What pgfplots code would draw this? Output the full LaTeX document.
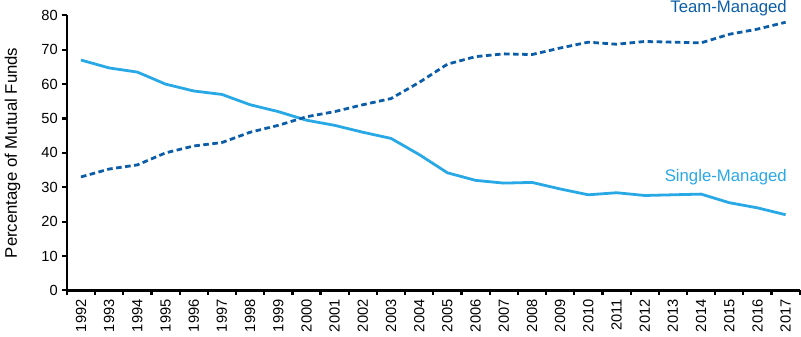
\documentclass[border=0pt]{standalone}
\usepackage{pgfplots}
\pgfplotsset{compat=1.18}
\usepackage{fontspec}
\setmainfont{Liberation Sans}
\definecolor{single}{HTML}{29A8E6}
\definecolor{team}{HTML}{0B5DA8}
\begin{document}
\begin{tikzpicture}
\begin{axis}[
  at={(0pt,0pt)}, anchor=south west,
  scale only axis, width=525pt, height=197pt,
  xmin=-0.5, xmax=25.5, ymin=0, ymax=80,
  axis lines*=left,
  axis line style={line width=1.8pt},
  clip=false,
  ytick={0,10,...,80},
  xtick={0,...,25},
  xticklabels={1992,1993,1994,1995,1996,1997,1998,1999,2000,2001,2002,2003,2004,2005,2006,2007,2008,2009,2010,2011,2012,2013,2014,2015,2016,2017},
  major tick length=0pt,
  xticklabel style={rotate=90, anchor=east, font=\fontsize{10.5}{12}\selectfont, xshift=-3pt},
  yticklabel style={font=\fontsize{10.5}{12}\selectfont, xshift=-3pt},
  /pgf/number format/assume math mode=true,
  ylabel={Percentage of Mutual Funds},
  ylabel style={font=\fontsize{12}{14}\selectfont, at={(axis description cs:-0.0743,0.5)}, anchor=center},
]
\addplot[single, line width=2pt, line join=round] coordinates {
(0,67) (1,64.7) (2,63.5) (3,60) (4,58) (5,57) (6,54) (7,52) (8,49.5) (9,48) (10,46) (11,44.2) (12,39.5) (13,34.2) (14,32) (15,31.2) (16,31.4) (17,29.5) (18,27.8) (19,28.4) (20,27.6) (21,27.8) (22,28) (23,25.5) (24,24) (25,22)
};
\addplot[team, line width=2pt, dash pattern=on 4pt off 2.5pt] coordinates {
(0,33) (1,35.3) (2,36.5) (3,40) (4,42) (5,43) (6,46) (7,48) (8,50.5) (9,52) (10,54) (11,55.8) (12,60.5) (13,65.8) (14,68) (15,68.8) (16,68.6) (17,70.5) (18,72.2) (19,71.6) (20,72.4) (21,72.2) (22,72) (23,74.5) (24,76) (25,78)
};
\draw[red, line width=0pt, opacity=0] (axis cs:0,40) -- (axis cs:0,41);
\draw[black, line width=1.8pt] (axis cs:-0.5,0) -- (axis cs:-0.5,80);
\pgfplotsinvokeforeach{0,10,...,80}{\draw[black, line width=1.5pt] (axis cs:-0.5,#1) -- ++(-3.5pt,0pt);}
\pgfplotsinvokeforeach{-0.5,0.5,...,25.5}{\draw[black, line width=1.6pt] (axis cs:#1,0) -- ++(0pt,-3.5pt);}
\node[anchor=east, text=team, font=\fontsize{12}{14}\selectfont, inner sep=0pt] at (axis cs:25.05,82.2) {Team-Managed};
\node[anchor=east, text=single, font=\fontsize{12}{14}\selectfont, inner sep=0pt] at (axis cs:25.05,32.8) {Single-Managed};
\end{axis}
\end{tikzpicture}
\end{document}
